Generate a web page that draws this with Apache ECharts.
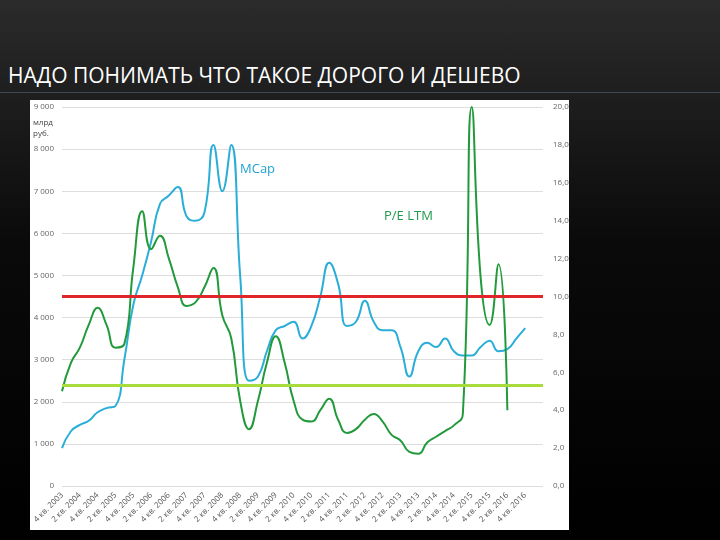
<!DOCTYPE html>
<html>
<head>
<meta charset="utf-8">
<script src="https://cdn.jsdelivr.net/npm/echarts@6/dist/echarts.min.js"></script>
<style>
  html, body { margin: 0; padding: 0; }
  body { width: 720px; height: 540px; background: linear-gradient(#2b2b2b, #0a0a0a 45%, #000); position: relative; overflow: hidden; }
  #title { position: absolute; left: 8px; top: 61px; color: #fff; font: 21px "Open Sans", sans-serif; }
  #rule { position: absolute; left: 0; top: 92px; width: 720px; height: 1px; background: #3a4a55; }
  #panel { position: absolute; left: 30px; top: 100px; width: 539px; height: 430px; background: #fff; }
  #main { position: absolute; left: 0; top: 0; width: 720px; height: 540px; }
</style>
</head>
<body>
<div id="title">НАДО ПОНИМАТЬ ЧТО ТАКОЕ ДОРОГО И ДЕШЕВО</div>
<div id="rule"></div>
<div id="panel"></div>
<div id="main"></div>
<script>
// кварталы с 4 кв.2003
var quarters = [];
(function () {
	var y = 2003, q = 4;
	for (var i = 0; i < 55; i++) {
		quarters.push(q + ' кв. ' + y);
		q++; if (q > 4) { q = 1; y++; }
	}
})();

// капитализация, млрд руб.
var mcap = [900, 1300, 1450, 1550, 1750, 1850, 1900, 3000, 4300, 5000, 5800, 6700, 6900, 7100,
	6400, 6300, 6500, 8100, 7000, 8100, 5000, 2500, 2600, 3200, 3700, 3800, 3900, 3500, 3800,
	4500, 5300, 4800, 3800, 3900, 4400, 3900, 3700, 3700, 3300, 2600, 3200, 3400, 3300, 3500,
	3200, 3100, 3100, 3300, 3450, 3200, 3250, 3500, 3750];

// P/E LTM
var pe = [5.0, 6.5, 7.3, 8.5, 9.4, 8.5, 7.3, 7.5, 11.5, 14.5, 12.5, 13.2, 12.0, 10.5, 9.5, 9.7,
	10.5, 11.5, 9.0, 7.8, 4.5, 3.0, 4.5, 6.5, 7.9, 6.5, 4.5, 3.5, 3.4, 4.0, 4.6, 3.5, 2.8, 3.0,
	3.5, 3.8, 3.4, 2.7, 2.4, 1.8, 1.7, 2.3, 2.6, 2.9, 3.2, 3.8, 20.0, 11.0, 8.5, 11.7, 4.0];

var peHigh = 10.0;
var peLow = 5.3;

var myChart = echarts.init(document.getElementById('main'));
var option = {
	animation: false,
	grid: { left: 62, right: 177, top: 107, bottom: 54 },
	xAxis: {
		type: 'category',
		data: quarters,
		boundaryGap: false,
		axisLine: { show: false },
		axisTick: { show: false },
		axisLabel: {
			interval: 1, rotate: 45, color: '#555', fontSize: 8,
			fontFamily: 'Open Sans',
			formatter: function (v, i) { return i > 52 ? '' : v; }
		}
	},
	yAxis: [{
		type: 'value', min: 0, max: 9000, interval: 1000,
		axisLabel: {
			color: '#666', fontSize: 8, fontFamily: 'Open Sans',
			formatter: function (v) { return v === 0 ? '0' : (v / 1000) + ' 000'; }
		},
		splitLine: { lineStyle: { color: '#ddd' } }
	}, {
		type: 'value', min: 0, max: 20, interval: 2,
		axisLabel: {
			color: '#666', fontSize: 8, fontFamily: 'Open Sans', margin: 10,
			formatter: function (v) { return v.toFixed(1).replace('.', ','); }
		},
		splitLine: { show: false }
	}],
	graphic: [
		{ type: 'text', left: 33, top: 117, style: { text: 'млрд\nруб.', fill: '#444', font: '8px "Open Sans"', lineHeight: 11 } },
		{ type: 'text', left: 240, top: 163, style: { text: 'MCap', fill: '#1fa3cf', font: '13px "Open Sans"' } },
		{ type: 'text', left: 384, top: 210, style: { text: 'P/E LTM', fill: '#1e9a4e', font: '13px "Open Sans"' } }
	],
	series: [{
		name: 'MCap', type: 'line', data: mcap, smooth: 0.5, showSymbol: false,
		lineStyle: { color: '#2aaed8', width: 2 }
	}, {
		name: 'P/E LTM', type: 'line', yAxisIndex: 1, data: pe, smooth: 0.5, showSymbol: false,
		lineStyle: { color: '#229a3c', width: 2 },
		markLine: {
			symbol: 'none', silent: true, label: { show: false },
			data: [
				{ yAxis: peHigh, lineStyle: { color: '#e0262a', width: 3, type: 'solid' } },
				{ yAxis: peLow, lineStyle: { color: '#a8dc3c', width: 3, type: 'solid' } }
			]
		}
	}]
};
myChart.setOption(option);
</script>
</body>
</html>
